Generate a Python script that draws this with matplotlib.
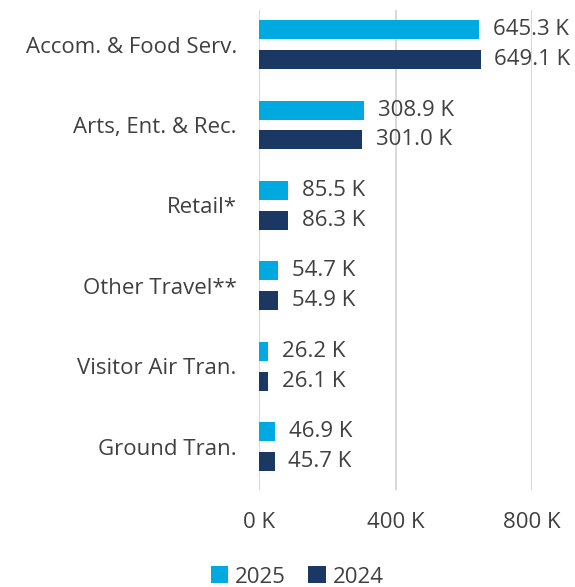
import matplotlib
matplotlib.use("Agg")
import matplotlib.pyplot as plt
import numpy as np

categories = ["Accom. & Food Serv.", "Arts, Ent. & Rec.", "Retail*", "Other Travel**",
              "Visitor Air Tran.", "Ground Tran."]
values_2025 = [645.3, 308.9, 85.5, 54.7, 26.2, 46.9]
values_2024 = [649.1, 301.0, 86.3, 54.9, 26.1, 45.7]
xticks = [0, 400, 800]
xtick_labels = ["0 K", "400 K", "800 K"]

plt.rcParams['font.family'] = ['Open Sans', 'DejaVu Sans']
c25 = "#00A9E0"
c24 = "#1B3764"
txt = "#404040"
fs = 16

fig = plt.figure(figsize=(5.75, 5.87), dpi=100)
ax = fig.add_axes([259/575, 1-490/587, (532-259)/575, 480/587])

y = np.arange(len(categories))
h = 0.235
off = 0.185
ax.barh(y - off, values_2025, height=h, color=c25, label="2025", zorder=3)
ax.barh(y + off, values_2024, height=h, color=c24, label="2024", zorder=3)

for yi, v in zip(y - off, values_2025):
    ax.annotate(f"{v:.1f} K", (v, yi), xytext=(10, 0), textcoords="offset points",
                va="center", ha="left", fontsize=fs, color=txt, annotation_clip=False)
for yi, v in zip(y + off, values_2024):
    ax.annotate(f"{v:.1f} K", (v, yi), xytext=(10, 0), textcoords="offset points",
                va="center", ha="left", fontsize=fs, color=txt, annotation_clip=False)

ax.set_ylim(len(categories) - 1 + 0.54, -0.43)
ax.set_xlim(0, 800)
ax.set_yticks(y)
ax.set_yticklabels(categories, fontsize=fs, color=txt)
ax.set_xticks(xticks)
ax.set_xticklabels(xtick_labels, fontsize=fs, color=txt)
ax.tick_params(axis='y', length=0, pad=16)
ax.tick_params(axis='x', length=0, pad=16)
for s in ax.spines.values():
    s.set_visible(False)
ax.grid(axis='x', color="#D9D9D9", linewidth=1.5, zorder=0)
ax.set_axisbelow(True)

fig.legend(loc="center", bbox_to_anchor=(297/575, 1-577/587), ncol=2, frameon=False,
           fontsize=fs, handlelength=0.8, handleheight=0.8, handletextpad=0.3,
           columnspacing=1.0, labelcolor=txt)

fig.savefig("out.png", dpi=100)
